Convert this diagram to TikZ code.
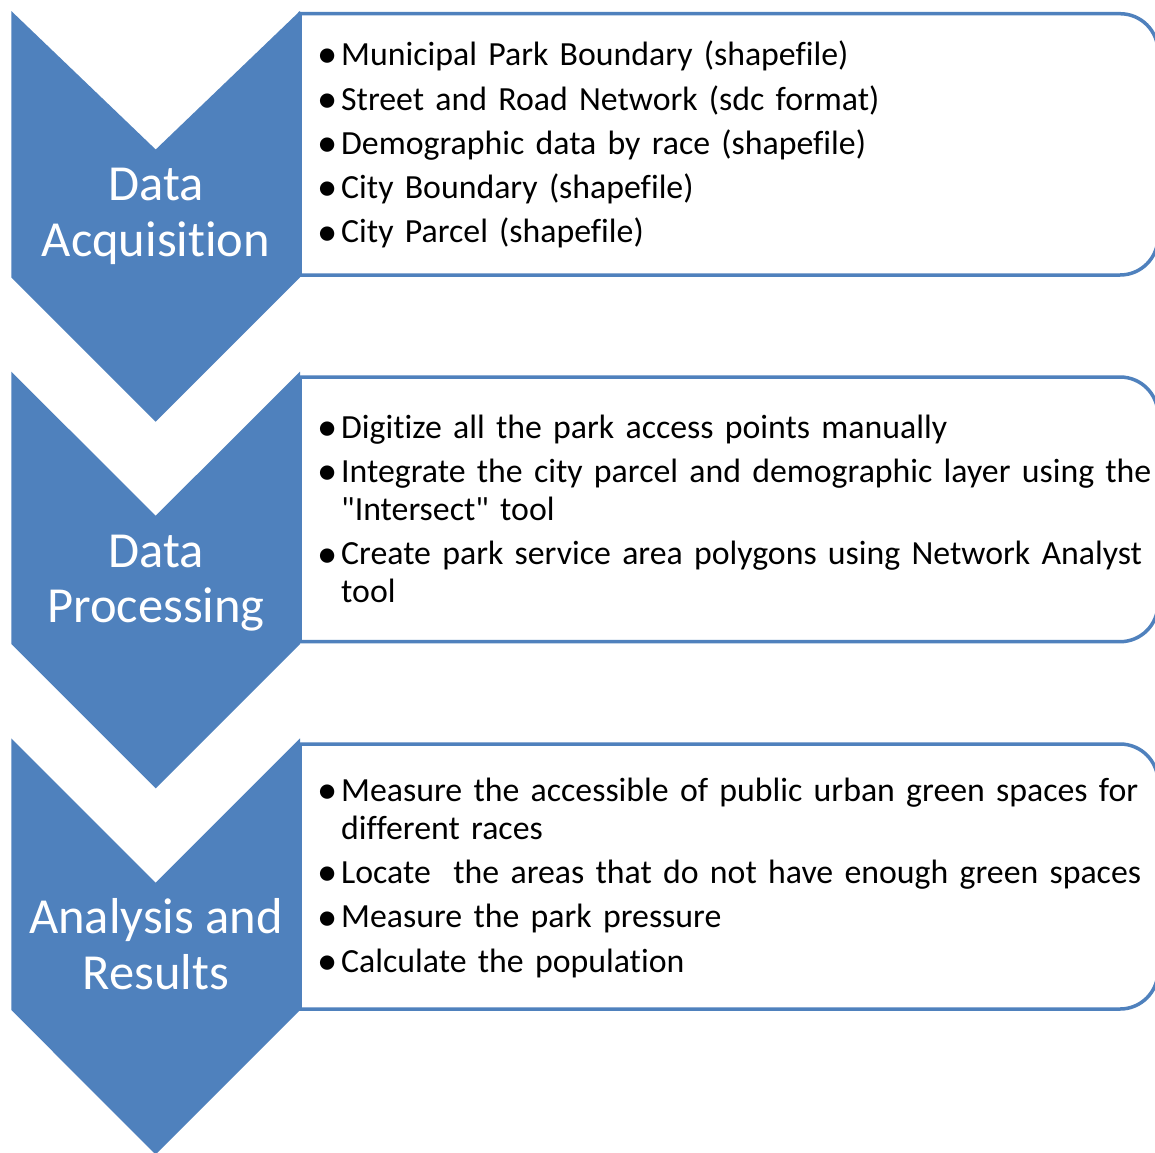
\documentclass[tikz,border=0pt]{standalone}
\usepackage{fontspec}
\setmainfont{Carlito}[Ligatures={TeXOff,NoCommon}]
\definecolor{accent}{HTML}{4F81BD}
% one bullet item with a hanging indent, closed by its own \par
\newcommand\bitem[1]{\hangindent=23pt\hangafter=1\noindent
  \makebox[23pt][l]{\hspace{-0.5pt}\raisebox{-2.2pt}{\scalebox{1.2}{•}}}#1\par}
\tikzset{
  chevron/.style={fill=accent},
  panel/.style={draw=accent, line width=3.5pt, fill=white},
  stagelabel/.style={text=white, align=center, inner sep=0pt, anchor=north,
    font=\fontsize{50.5}{55.5}\selectfont},
  panellist/.style={text width=860pt, align=left, inner sep=0pt, anchor=north west,
    font=\fontsize{33.8}{38}\selectfont},
}
\begin{document}
\begin{tikzpicture}[x=1pt,y=-1pt]
\useasboundingbox (0,0) rectangle (1155,1152);
\fill[white] (0,0) rectangle (1155,1152);

% panels: square on the left, rounded on the right
\draw[panel] (300,13.7) -- (1120,13.7) .. controls (1141,13.7) and (1158,30.7) .. (1158,51.7)
  -- (1158,237) .. controls (1158,258) and (1141,275) .. (1120,275) -- (300,275) -- cycle;
\draw[panel] (300,377) -- (1120,377) .. controls (1141,377) and (1158,394) .. (1158,415)
  -- (1158,603.7) .. controls (1158,624.7) and (1141,641.7) .. (1120,641.7) -- (300,641.7) -- cycle;
\draw[panel] (300,744) -- (1120,744) .. controls (1141,744) and (1158,761) .. (1158,782)
  -- (1158,971) .. controls (1158,992) and (1141,1009) .. (1120,1009) -- (300,1009) -- cycle;

% stage chevrons
\fill[chevron] (11.3,11) -- (155.7,149.5) -- (300,11) -- (300,277.3) -- (155.7,421.7) -- (11.3,277.3) -- cycle;
\fill[chevron] (11.3,371.7) -- (155.7,515.7) -- (300,371.7) -- (300,644) -- (155.7,788.3) -- (11.3,644) -- cycle;
\fill[chevron] (11.3,738.3) -- (155.7,882.7) -- (300,738.3) -- (300,1010) -- (155.7,1154.5) -- (11.3,1010) -- cycle;

% stage names
\node[stagelabel] (s1) at (156,160.7) {\rule{0pt}{40pt}Data\\Acquisition};
\node[stagelabel] (s2) at (156,527) {\rule{0pt}{40pt}Data\\Processing};
\node[stagelabel] (s3) at (156,893.3) {\rule{0pt}{40pt}Analysis and\\Results};

% panel contents
\node[panellist] (p1) at (318,35.5) {\setlength{\parskip}{6.3pt}%
  \bitem{\rule{0pt}{30pt}Municipal Park Boundary (shapefile)}%
  \bitem{Street and Road Network (sdc format)}%
  \bitem{Demographic data by race (shapefile)}%
  \bitem{City Boundary (shapefile)}%
  \bitem{City Parcel (shapefile)}};
\node[panellist] (p2) at (318,408) {\setlength{\parskip}{6.3pt}%
  \bitem{\rule{0pt}{30pt}Digitize all the park access points manually}%
  \bitem{Integrate the city parcel and demographic layer using the\newline "Intersect" tool}%
  \bitem{Create park service area polygons using Network Analyst\newline tool}};
\node[panellist] (p3) at (318,771) {\setlength{\parskip}{6.3pt}%
  \bitem{\rule{0pt}{30pt}Measure the accessible of public urban green spaces for\newline different races}%
  \bitem{Locate~ the areas that do not have enough green spaces}%
  \bitem{Measure the park pressure}%
  \bitem{Calculate the population}};
\end{tikzpicture}
\end{document}
